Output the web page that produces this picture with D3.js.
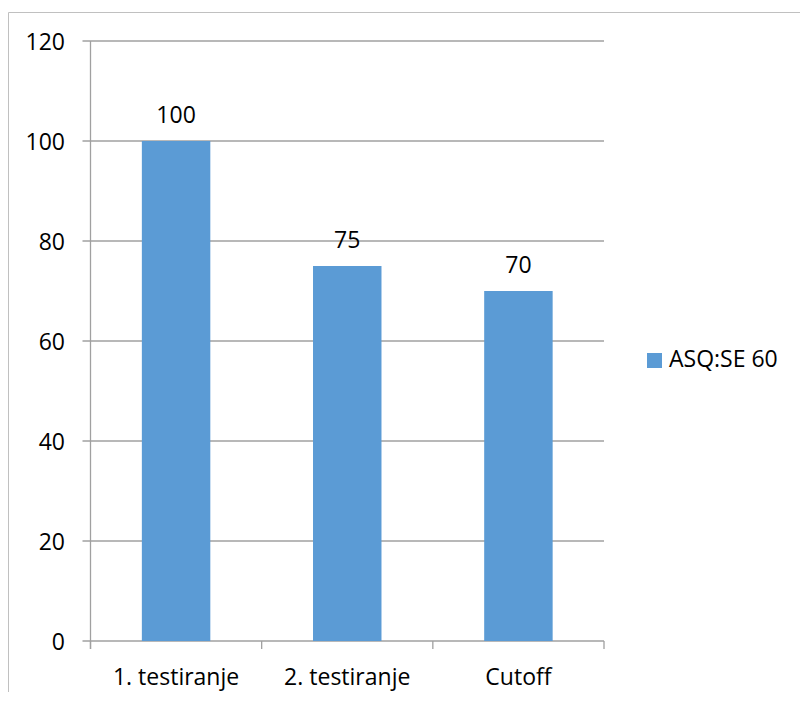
<!DOCTYPE html>
<html>
<head>
<meta charset="utf-8">
<script src="https://cdn.jsdelivr.net/npm/d3@7"></script>
<style>
  body { margin: 0; background: #fff; }
  svg text { font-family: "Open Sans", sans-serif; fill: #000; }
</style>
</head>
<body>
<div id="chart"></div>
<script>
var categories = ["1. testiranje", "2. testiranje", "Cutoff"]
var values = [100, 75, 70]
var seriesName = "ASQ:SE 60"
var yTicks = [0, 20, 40, 60, 80, 100, 120]

var width = 800, height = 702
var margin = {top: 41, right: 196, bottom: 61, left: 90.5}
var fontSize = 23
var barColor = "#5B9BD5"
var gridColor = "#a0a0a0"

var svg = d3.select("#chart")
  .append("svg")
  .attr("width", width)
  .attr("height", height)

// outer chart border (only left and top edges are visible)
svg.append("path")
  .attr("d", "M8.5,692V12.5H800")
  .attr("fill", "none")
  .attr("stroke", "#c0c0c0")
  .attr("stroke-width", 1)

var x = d3.scaleBand()
  .domain(categories)
  .range([margin.left, width - margin.right])
  .paddingInner(0.6)
  .paddingOuter(0.3)

var y = d3.scaleLinear()
  .domain([0, 120])
  .range([height - margin.bottom, margin.top])

// gridlines + y ticks
svg.append("g")
  .selectAll("line")
  .data(yTicks)
  .enter()
  .append("line")
  .attr("x1", margin.left - 8)
  .attr("x2", width - margin.right)
  .attr("y1", d => y(d))
  .attr("y2", d => y(d))
  .attr("stroke", gridColor)
  .attr("stroke-width", 1.3)

svg.append("g")
  .selectAll("text")
  .data(yTicks)
  .enter()
  .append("text")
  .attr("x", 65)
  .attr("y", d => y(d) + 9)
  .attr("text-anchor", "end")
  .style("font-size", fontSize + "px")
  .text(d => d)

// y axis line
svg.append("line")
  .attr("x1", margin.left)
  .attr("x2", margin.left)
  .attr("y1", y(120))
  .attr("y2", y(0) + 8)
  .attr("stroke", gridColor)
  .attr("stroke-width", 1.3)

// x ticks at band edges
var edges = categories.map(d => x(d) - x.step() * x.paddingOuter())
edges.push(width - margin.right)
svg.append("g")
  .selectAll("line")
  .data(edges)
  .enter()
  .append("line")
  .attr("x1", d => d)
  .attr("x2", d => d)
  .attr("y1", y(0))
  .attr("y2", y(0) + 8)
  .attr("stroke", gridColor)
  .attr("stroke-width", 1.3)

// bars
var data = categories.map((c, i) => ({cat: c, value: values[i]}))

svg.append("g")
  .selectAll("rect")
  .data(data)
  .enter()
  .append("rect")
  .attr("x", d => x(d.cat))
  .attr("width", x.bandwidth())
  .attr("y", d => y(d.value))
  .attr("height", d => y(0) - y(d.value))
  .attr("fill", barColor)

// value labels
svg.append("g")
  .selectAll("text")
  .data(data)
  .enter()
  .append("text")
  .attr("x", d => x(d.cat) + x.bandwidth() / 2)
  .attr("y", d => y(d.value) - 18.5)
  .attr("text-anchor", "middle")
  .style("font-size", fontSize + "px")
  .text(d => d.value)

// category labels
svg.append("g")
  .selectAll("text")
  .data(categories)
  .enter()
  .append("text")
  .attr("x", d => x(d) + x.bandwidth() / 2)
  .attr("y", 685)
  .attr("text-anchor", "middle")
  .style("font-size", fontSize + "px")
  .text(d => d)

// legend
var legend = svg.append("g")
  .attr("transform", "translate(647,353)")

legend.append("rect")
  .attr("width", 15)
  .attr("height", 15)
  .attr("fill", barColor)

legend.append("text")
  .attr("x", 22)
  .attr("y", 14)
  .style("font-size", fontSize + "px")
  .text(seriesName)
</script>
</body>
</html>
